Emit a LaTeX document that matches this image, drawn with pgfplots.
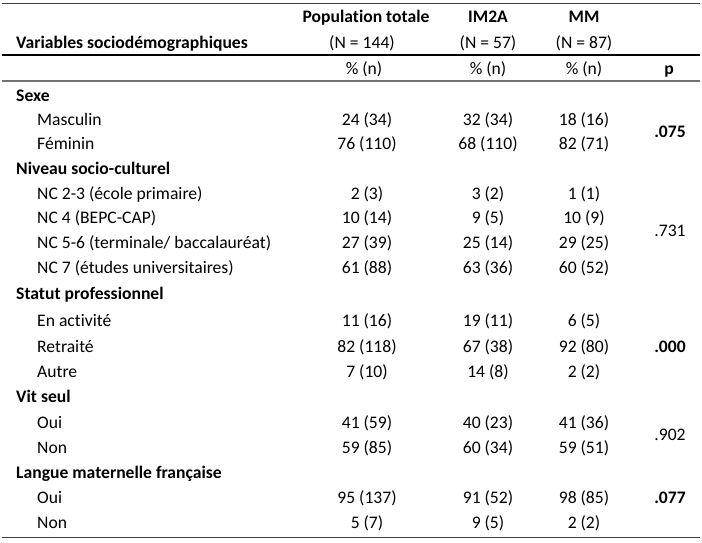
\documentclass[border=0pt]{standalone}
\usepackage{fontspec}
\setmainfont[Ligatures=NoCommon]{Carlito}
\usepackage{pgfplots}
\pgfplotsset{compat=1.18}
\newcommand{\tf}{\fontsize{17.6}{20}\selectfont}
\pgfplotsset{
  txt/.style={draw=none, no markers, nodes near coords, point meta=explicit symbolic,
    nodes near coords style={anchor=center, inner sep=0pt, yshift=-2pt, text=black, text height=12pt, text depth=3.5pt, font=\tf}},
  txtl/.style={txt, nodes near coords style={anchor=west}},
  bold/.style={nodes near coords style={font=\tf\bfseries}},
}
\begin{document}
\begin{tikzpicture}
\begin{axis}[scale only axis, width=702pt, height=542pt,
  xmin=0, xmax=702, ymin=0, ymax=542, y dir=reverse, hide axis, clip=false]
\path (rel axis cs:0,0) rectangle (rel axis cs:1,1);
% rules
\addplot[color=black!75, line width=0.8pt] coordinates {(2,3) (700,3)};
\addplot[color=black, line width=2pt] coordinates {(2,55) (700,55)};
\addplot[color=black!55, line width=1.2pt] coordinates {(2,81) (700,81)};
\addplot[color=black!75, line width=0.8pt] coordinates {(2,537) (700,537)};
% bold left labels
\addplot[txtl, bold] table[meta=t, col sep=comma] {
x,y,t
16,42,Variables sociodémographiques
16,95,Sexe
16,168,Niveau socio-culturel
16,293,Statut professionnel
16,396,Vit seul
16,472,Langue maternelle française
};
% sub labels
\addplot[txtl] table[meta=t, col sep=comma] {
x,y,t
37,119,Masculin
37,143,Féminin
37,193,NC 2-3 (école primaire)
37,217,NC 4 (BEPC-CAP)
37,242,NC 5-6 (terminale/ baccalauréat)
37,267,NC 7 (études universitaires)
37,320,En activité
37,346,Retraité
37,371,Autre
37,422,Oui
37,447,Non
37,497,Oui
37,522,Non
};
% bold headers
\addplot[txt, bold] table[meta=t, col sep=comma] {
x,y,t
366,16,Population totale
488,16,IM2A
584,16,MM
669,68,p
};
% normal headers
\addplot[txt] table[meta=t, col sep=comma] {
x,y,t
362,42,(N = 144)
488,42,(N = 57)
584,42,(N = 87)
364,68,\% (n)
488,68,\% (n)
584,68,\% (n)
};
% Population totale
\addplot[txt] table[meta=t, col sep=comma] {
x,y,t
367,119,24 (34)
367,143,76 (110)
367,193,2 (3)
367,217,10 (14)
367,242,27 (39)
367,267,61 (88)
367,320,11 (16)
367,346,82 (118)
367,371,7 (10)
367,422,41 (59)
367,447,59 (85)
367,497,95 (137)
367,522,5 (7)
};
% IM2A
\addplot[txt] table[meta=t, col sep=comma] {
x,y,t
488,119,32 (34)
488,143,68 (110)
488,193,3 (2)
488,217,9 (5)
488,242,25 (14)
488,267,63 (36)
488,320,19 (11)
488,346,67 (38)
488,371,14 (8)
488,422,40 (23)
488,447,60 (34)
488,497,91 (52)
488,522,9 (5)
};
% MM
\addplot[txt] table[meta=t, col sep=comma] {
x,y,t
584,119,18 (16)
584,143,82 (71)
584,193,1 (1)
584,217,10 (9)
584,242,29 (25)
584,267,60 (52)
584,320,6 (5)
584,346,92 (80)
584,371,2 (2)
584,422,41 (36)
584,447,59 (51)
584,497,98 (85)
584,522,2 (2)
};
% p values
\addplot[txt, bold] table[meta=t, col sep=comma] {
x,y,t
670,131,.075
670,346,.000
670,497,.077
};
\addplot[txt] table[meta=t, col sep=comma] {
x,y,t
670,230,.731
670,434,.902
};
\end{axis}
\end{tikzpicture}
\end{document}
